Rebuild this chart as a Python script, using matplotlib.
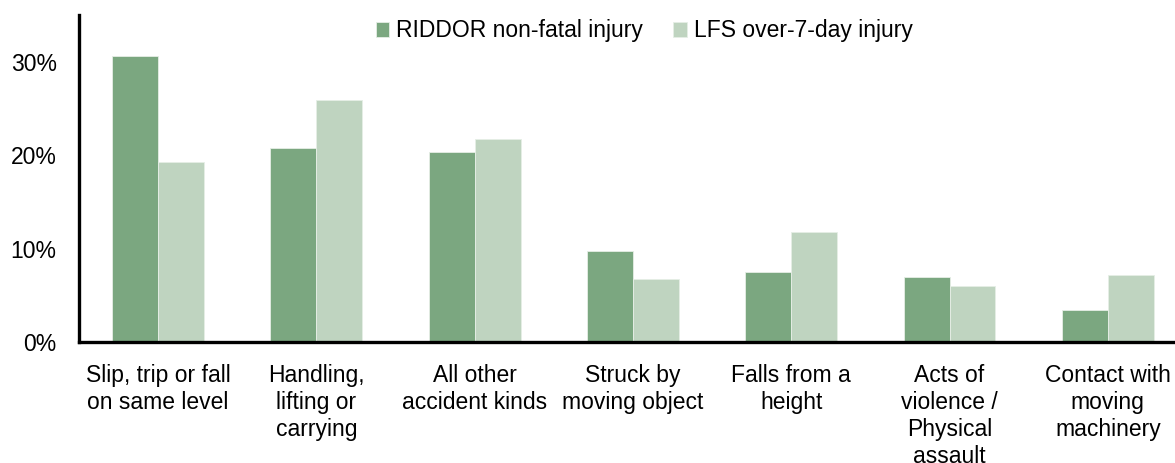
import matplotlib.pyplot as plt
import numpy as np
from matplotlib.ticker import PercentFormatter

categories = ["Slip, trip or fall\non same level", "Handling,\nlifting or\ncarrying",
              "All other\naccident kinds", "Struck by\nmoving object",
              "Falls from a\nheight", "Acts of\nviolence /\nPhysical\nassault",
              "Contact with\nmoving\nmachinery"]
riddor = [30.6, 20.8, 20.3, 9.7, 7.5, 7.0, 3.4]
lfs = [19.3, 25.9, 21.7, 6.7, 11.8, 6.0, 7.2]

plt.rcParams['font.family'] = ['Liberation Sans', 'DejaVu Sans']

fig = plt.figure(figsize=(11.75, 4.63), dpi=100)
ax = fig.add_axes([0.0672, 0.2613, 0.943, 0.706])

x = np.arange(len(categories))
w = 0.29
ax.bar(x - w / 2, riddor, w, color='#7BA780', edgecolor='#E6EEE6', linewidth=0.6,
       label='RIDDOR non-fatal injury')
ax.bar(x + w / 2, lfs, w, color='#BFD4C0', edgecolor='#E6EEE6', linewidth=0.6,
       label='LFS over-7-day injury')

ax.set_xlim(-0.5, len(categories) - 0.5)
ax.set_ylim(0, 35)
ax.set_yticks([0, 10, 20, 30])
ax.yaxis.set_major_formatter(PercentFormatter(decimals=0))
ax.set_xticks(x)
ax.set_xticklabels(categories, fontsize=16.5, linespacing=1.22)
ax.tick_params(axis='both', length=0)
ax.tick_params(axis='x', pad=16)
ax.tick_params(axis='y', pad=16, labelsize=16.5)

for s in ['top', 'right']:
    ax.spines[s].set_visible(False)
for s in ['left', 'bottom']:
    ax.spines[s].set_linewidth(2.4)
    ax.spines[s].set_color('black')

ax.legend(loc='upper center', bbox_to_anchor=(0.51, 1.05), ncol=2, frameon=False,
          fontsize=16.5, handlelength=0.6, handleheight=0.6, handletextpad=0.3,
          columnspacing=1.3)

fig.savefig('out.png', dpi=100)
